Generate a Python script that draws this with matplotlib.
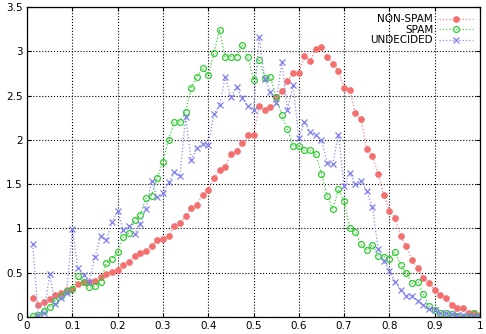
import numpy as np
import matplotlib
matplotlib.use("Agg")
import matplotlib.pyplot as plt

## data, one point every 1/80 on x
x = np.arange(1, 81) / 80.0

non_spam = [0.22, 0.14, 0.17, 0.20, 0.25, 0.275, 0.30, 0.32, 0.37, 0.40,
            0.40, 0.41, 0.45, 0.49, 0.505, 0.535, 0.59, 0.62, 0.69, 0.72,
            0.75, 0.80, 0.875, 0.885, 0.91, 1.03, 1.06, 1.14, 1.23, 1.27,
            1.38, 1.43, 1.57, 1.66, 1.69, 1.84, 1.87, 1.97, 2.05, 2.06,
            2.38, 2.34, 2.37, 2.48, 2.55, 2.67, 2.75, 2.75, 2.95, 2.89,
            3.03, 3.05, 2.94, 2.86, 2.78, 2.59, 2.56, 2.30, 2.23, 1.90,
            1.82, 1.62, 1.38, 1.20, 1.12, 0.91, 0.80, 0.64, 0.55, 0.445,
            0.385, 0.30, 0.25, 0.21, 0.14, 0.10, 0.10, 0.05, 0.04, 0.02]

spam = [0.01, 0.02, 0.07, 0.115, 0.18, 0.24, 0.295, 0.32, 0.46, 0.39,
        0.335, 0.35, 0.39, 0.61, 0.655, 0.73, 0.90, 0.95, 1.09, 1.15,
        1.34, 1.37, 1.57, 1.75, 2.00, 2.20, 2.20, 2.32, 2.59, 2.71,
        2.81, 2.73, 2.98, 3.245, 2.93, 2.94, 2.94, 3.075, 2.94, 2.68,
        2.90, 2.70, 2.71, 2.48, 2.28, 2.12, 1.93, 1.93, 1.88, 1.88,
        1.84, 1.62, 1.37, 1.22, 1.44, 1.31, 1.01, 0.96, 0.82, 0.76,
        0.815, 0.69, 0.68, 0.66, 0.73, 0.59, 0.495, 0.38, 0.40, 0.26,
        0.12, 0.08, 0.04, 0.04, 0.03, 0.01, 0.0, 0.0, 0.04, 0.0]

undecided = [0.82, 0.02, 0.04, 0.48, 0.15, 0.22, 0.275, 0.99, 0.55, 0.47,
             0.40, 0.68, 0.91, 0.865, 1.07, 1.20, 0.985, 1.03, 0.935, 1.05,
             1.22, 1.53, 1.35, 1.40, 1.52, 1.64, 1.59, 2.26, 1.77, 1.91,
             1.95, 1.94, 2.29, 2.39, 2.71, 2.48, 2.60, 2.47, 2.38, 2.34,
             3.16, 2.69, 2.54, 2.42, 2.88, 2.34, 2.62, 2.02, 2.20, 2.09,
             2.06, 2.00, 1.74, 1.73, 2.06, 1.48, 1.63, 1.50, 1.54, 1.42,
             1.24, 0.77, 0.63, 0.52, 0.40, 0.31, 0.24, 0.24, 0.18, 0.135,
             0.09, 0.08, 0.05, 0.04, 0.035, 0.02, 0.02, 0.015, 0.015, 0.005]

xticks = [0, 0.1, 0.2, 0.3, 0.4, 0.5, 0.6, 0.7, 0.8, 0.9, 1]
yticks = [0, 0.5, 1, 1.5, 2, 2.5, 3, 3.5]

##draw plot
fig = plt.figure(figsize=(4.86, 3.34), dpi=100)
ax = fig.add_axes([27 / 486, 17 / 334, 453 / 486, 310 / 334])

ax.plot(x, non_spam, color="#f77f7f", linestyle=":", linewidth=0.9,
        marker="o", markersize=3.8, markerfacecolor="#f47070",
        markeredgecolor="#f47070", label="NON-SPAM")
ax.plot(x, spam, color="#3ad23a", linestyle=":", linewidth=0.9,
        marker="o", markersize=4.2, markerfacecolor="none",
        markeredgecolor="#30cc30", markeredgewidth=0.9, label="SPAM")
ax.plot(x, undecided, color="#8a8af0", linestyle=":", linewidth=0.9,
        marker="x", markersize=4.2, markeredgecolor="#7f7fee",
        markeredgewidth=0.9, label="UNDECIDED")

ax.set_xlim(0, 1)
ax.set_ylim(0, 3.5)
ax.set_xticks(xticks)
ax.set_xticklabels(["0", "0.1", "0.2", "0.3", "0.4", "0.5", "0.6", "0.7", "0.8", "0.9", "1"])
ax.set_yticks(yticks)
ax.set_yticklabels(["0", "0.5", "1", "1.5", "2", "2.5", "3", "3.5"])
ax.tick_params(direction="in", top=True, right=True, labelsize=7.5, length=3, pad=3)
ax.grid(True, color="black", linestyle=":", linewidth=0.8)
for s in ax.spines.values():
    s.set_linewidth(0.9)

leg = ax.legend(loc="upper right", frameon=False, markerfirst=False, fontsize=7.5,
                handlelength=3.2, handletextpad=0.6, labelspacing=0.05,
                borderaxespad=0.3)
for t in leg.get_texts():
    t.set_ha("right")
leg._legend_box.align = "right"

fig.savefig("out.png", dpi=100)
